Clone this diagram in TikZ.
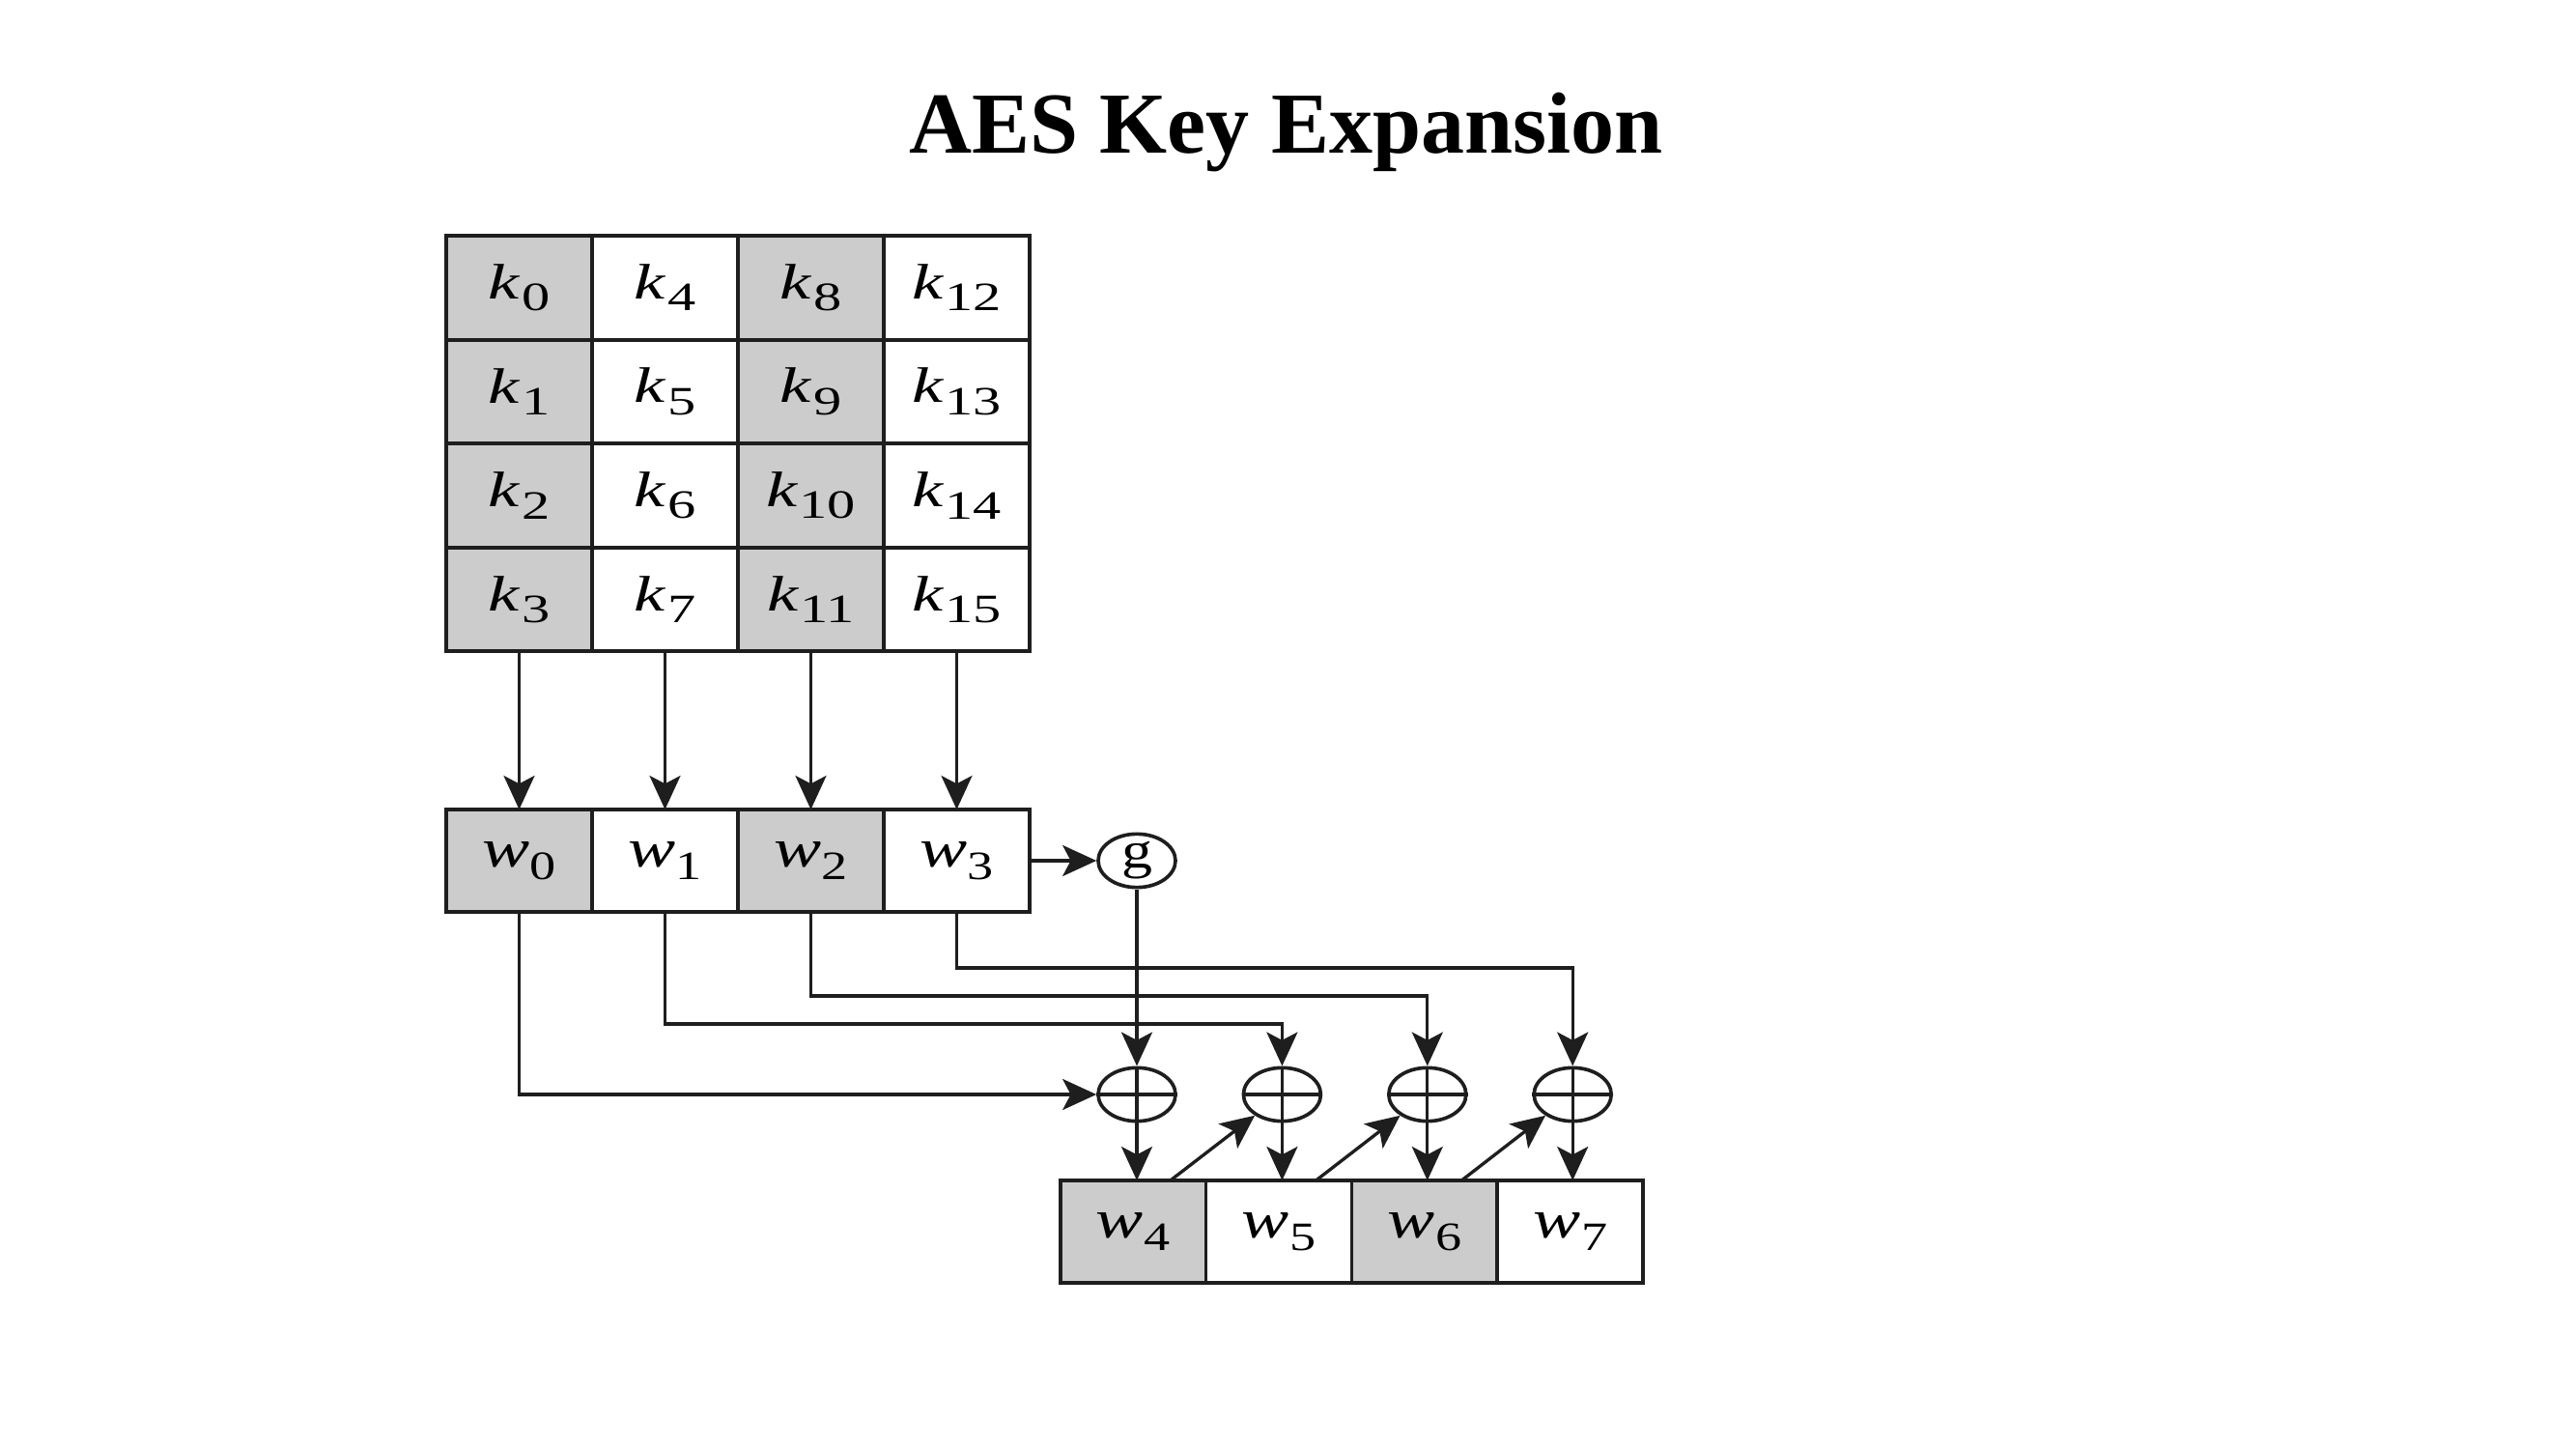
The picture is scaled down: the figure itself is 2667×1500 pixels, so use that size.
\documentclass[tikz,border=0pt]{standalone}
\usepackage{fontspec}
\usepackage{graphicx}
\usetikzlibrary{arrows.meta,shapes.geometric}
\setmainfont{Liberation Serif}
\definecolor{cellgray}{RGB}{204,204,204}
\definecolor{linec}{RGB}{30,30,30}
\newcommand\klab[1]{\raisebox{-0.06em}{\scalebox{1.4}[1]{\fontsize{15.5}{17}\selectfont\textit{k}\kern0.02em\raisebox{-0.24em}{\fontsize{12.5}{14}\selectfont #1}}}}
\newcommand\wlab[1]{\raisebox{-0.08em}{\scalebox{1.3}[1]{\fontsize{17}{19}\selectfont\textit{w}\kern0.01em\raisebox{-0.24em}{\fontsize{12.5}{14}\selectfont #1}}}}
\tikzset{
  cell/.style={draw=linec, line width=1.1pt, rectangle, minimum width=45.3pt, minimum height=32.2pt, inner sep=0pt, outer sep=0pt},
  wcell/.style={cell, minimum height=31.8pt},
  arr/.style={draw=linec, line width=1pt, -{Stealth[length=10.5pt,width=9.6pt,inset=2.5pt]}},
  plain/.style={draw=linec, line width=1pt},
  oval/.style={draw=linec, line width=1.1pt, ellipse, minimum width=24pt, minimum height=16.6pt, inner sep=0pt},
  titlestyle/.style={font=\fontsize{27}{32}\selectfont\bfseries, anchor=base, inner sep=0pt}
}
\begin{document}
\begin{tikzpicture}[x=0.3pt,y=-0.3pt]
\useasboundingbox (0,0) rectangle (2667,1500);
\node[titlestyle] (title) at (1331.5,159) {AES Key Expansion};
% key grid
\foreach \c in {0,1,2,3}{
  \foreach \r in {0,1,2,3}{
    \pgfmathtruncatemacro\idx{4*\c+\r}
    \ifodd\c \def\fc{white}\else\def\fc{cellgray}\fi
    \node[cell, fill=\fc] (k\idx) at ({537.5+151*\c},{297.8+107.6*\r}) {\klab{\idx}};
  }
}
% first word row
\foreach \c in {0,1,2,3}{
  \ifodd\c \def\fc{white}\else\def\fc{cellgray}\fi
  \node[wcell, fill=\fc] (w\c) at ({537.5+151*\c},891) {\wlab{\c}};
}
% second word row
\foreach \c in {0,1,2,3}{
  \pgfmathtruncatemacro\idx{4+\c}
  \ifodd\c \def\fc{white}\else\def\fc{cellgray}\fi
  \node[wcell, fill=\fc] (w\idx) at ({1173.4+150.75*\c},1275) {\wlab{\idx}};
}
% key grid to words
\draw[arr] (k3.south) -- (w0.north);
\draw[arr] (k7.south) -- (w1.north);
\draw[arr] (k11.south) -- (w2.north);
\draw[arr] (k15.south) -- (w3.north);
% g function
\node[oval] (g) at (1177,891) {\raisebox{0.05em}{\scalebox{1.2}[1]{\fontsize{16}{18}\selectfont g}}};
\draw[arr] (w3.east) -- (g.west);
% xor nodes
\foreach \i in {1,2,3,4}{
  \node[oval] (x\i) at ({1177+150.4*(\i-1)},1133) {};
  \draw[plain] (x\i.west) -- (x\i.east);
  \draw[plain] (x\i.north) -- (x\i.south);
}
\coordinate (h1) at (0,1060);
\coordinate (h2) at (0,1031);
\coordinate (h3) at (0,1002);
\draw[arr] (w0.south) |- (x1.west);
\draw[arr] (w1.south) -- (w1.south |- h1) -| (x2.north);
\draw[arr] (w2.south) -- (w2.south |- h2) -| (x3.north);
\draw[arr] (w3.south) -- (w3.south |- h3) -| (x4.north);
\draw[arr] (g.south) -- (x1.north);
% xor outputs
\draw[arr] (x1.south) -- (x1.south |- w4.north);
\draw[arr] (x2.south) -- (x2.south |- w5.north);
\draw[arr] (x3.south) -- (x3.south |- w6.north);
\draw[arr] (x4.south) -- (x4.south |- w7.north);
% chaining diagonals
\draw[arr] ([xshift=11.5pt]w4.north) -- (x2);
\draw[arr] ([xshift=11.5pt]w5.north) -- (x3);
\draw[arr] ([xshift=11.5pt]w6.north) -- (x4);
\end{tikzpicture}
\end{document}
